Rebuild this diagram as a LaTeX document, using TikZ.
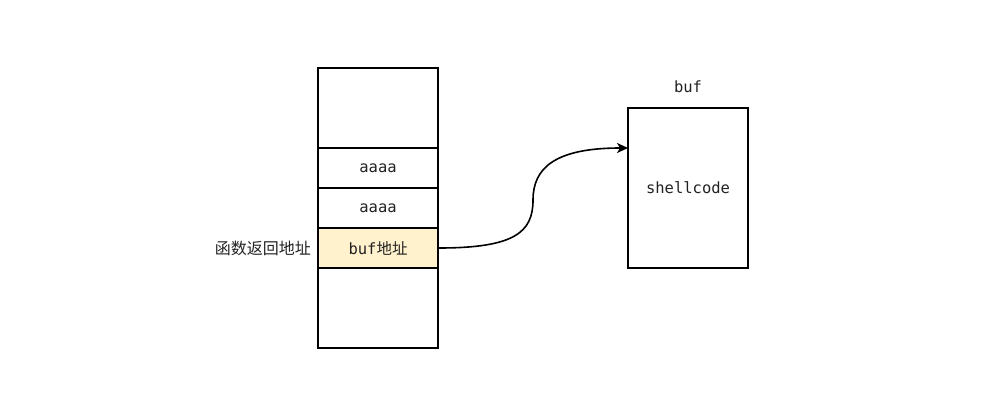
\documentclass[tikz,border=0pt]{standalone}
\usepackage{fontspec}
\setmonofont{DejaVu Sans Mono}
\newfontfamily\cjk{Noto Sans CJK SC}
\usetikzlibrary{arrows.meta}
\definecolor{memfill}{HTML}{FFF2CC}
\definecolor{txt}{HTML}{222222}
\tikzset{
  cell/.style={draw=black, line width=1.6pt, minimum width=120pt, inner sep=0pt, font=\ttfamily\fontsize{15.5}{18}\selectfont, text=txt},
  lbl/.style={inner sep=0pt, font=\fontsize{16}{18}\selectfont, text=txt},
  link/.style={line width=1.6pt, -{Stealth[length=11pt,width=10pt,inset=3pt]}}
}
\begin{document}
\begin{tikzpicture}[x=1pt,y=-1pt]
\useasboundingbox (0,0) rectangle (1000,412);
\node[cell, minimum height=80pt] (top) at (378,108) {};
\node[cell, minimum height=40pt] (a1) at (378,168) {aaaa};
\node[cell, minimum height=40pt] (a2) at (378,208) {aaaa};
\node[cell, minimum height=40pt, fill=memfill] (ret) at (378,248) {buf{\cjk 地址}};
\node[cell, minimum height=80pt] (bot) at (378,308) {};
\node[lbl, anchor=east] (retlbl) at (311,248) {\cjk 函数返回地址};
\node[cell, minimum height=160pt] (buf) at (688,188) {shellcode};
\node[lbl, font=\ttfamily\fontsize{15.5}{18}\selectfont] (buflbl) at (688,87) {buf};
\coordinate (tgt) at (628,148);
\draw[link] (ret.east) .. controls (515,248) and (533,232) .. (533,200) .. controls (533,168) and (555,148) .. (tgt);
\end{tikzpicture}
\end{document}
